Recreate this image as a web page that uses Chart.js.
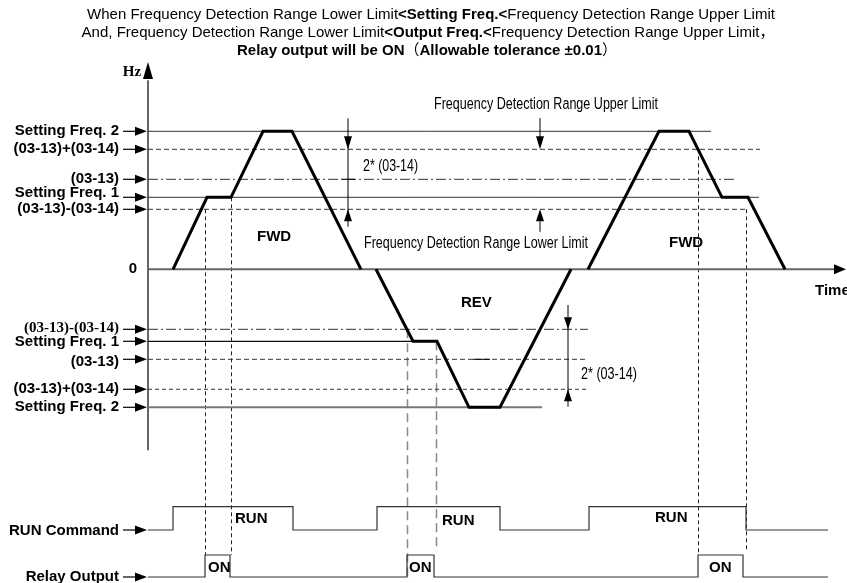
<!DOCTYPE html>
<html><head><meta charset="utf-8">
<script src="https://cdn.jsdelivr.net/npm/chart.js@4"></script>
<style>html,body{margin:0;padding:0;background:#fff;overflow:hidden}#wrap{width:847px;height:583px;position:relative}</style>
</head><body><div id="wrap"><canvas id="c" width="847" height="583"></canvas></div>
<script>
// ---- Frequency profile (time units, Hz) ----
const fwd1Time = [2.5, 5.9, 8.3, 11.5, 14.4, 21.3];
const fwd1Hz   = [0, 24, 24, 46, 46, 0];
const revTime  = [22.8, 26.5, 28.9, 32.1, 35.2, 42.3];
const revHz    = [0, -24, -24, -46, -46, 0];
const fwd2Time = [44.0, 51.1, 54.1, 57.4, 60.0, 63.7];
const fwd2Hz   = [0, 46, 46, 24, 24, 0];

// ---- Reference levels ----
const upperLevelLabels = ['Setting Freq. 2', '(03-13)+(03-14)', '(03-13)', 'Setting Freq. 1', '(03-13)-(03-14)'];
const upperLevelHz  = [46, 40, 30, 24, 20];
const upperLevelEnd = [56.3, 61.2, 58.8, 61.1, 59.9];
const lowerLevelLabels = ['(03-13)-(03-14)', 'Setting Freq. 1', '(03-13)', '(03-13)+(03-14)', 'Setting Freq. 2'];
const lowerLevelHz  = [-20, -24, -30, -40, -46];
const lowerLevelEnd = [44.0, 26.5, 44.0, 43.8, 39.4];

// ---- Detection markers (vertical dashed lines) ----
const markerTime = [5.7, 8.3, 25.9, 28.8, 55.0, 59.8];
const markerHz   = [20, 24, -20, -24, 40, 20];
const markerRelayEnd = [1, 1, 0, 1.3, 1, 1.2];

// ---- RUN command / relay output (0 = off, 1 = on) ----
const runTime    = [0, 2.5, 14.5, 22.9, 35.2, 44.1, 59.8, 68.0];
const runState   = [0, 1, 0, 1, 0, 1, 0, 0];
const relayTime  = [0, 5.7, 8.2, 25.9, 28.6, 55.0, 59.5, 68.0];
const relayState = [0, 1, 0, 1, 0, 1, 0, 0];

const SANS = "'Liberation Sans', Arial, Helvetica, 'Noto Sans CJK SC', sans-serif";
const SERIF = "'Liberation Serif', 'Times New Roman', serif";
const NARROW = "'Liberation Sans Narrow', 'Arial Narrow', 'Liberation Sans', sans-serif";

function pts(xs, ys) { return xs.map((v, i) => ({x: v, y: ys[i]})); }

const curveStyle = {borderColor: '#000', borderWidth: 3, pointRadius: 0, tension: 0, fill: false,
  borderJoinStyle: 'miter', borderCapStyle: 'butt', yAxisID: 'y'};
const datasets = [
  Object.assign({label: 'FWD', data: pts(fwd1Time, fwd1Hz)}, curveStyle),
  Object.assign({label: 'REV', data: pts(revTime, revHz)}, curveStyle),
  Object.assign({label: 'FWD', data: pts(fwd2Time, fwd2Hz)}, curveStyle),
  {label: 'RUN Command', data: pts(runTime, runState), stepped: 'before', borderColor: '#333', borderWidth: 1.2,
   pointRadius: 0, yAxisID: 'yRun'},
  {label: 'Relay Output', data: pts(relayTime, relayState), stepped: 'before', borderColor: '#333', borderWidth: 1.2,
   pointRadius: 0, yAxisID: 'yRelay'}
];
const upperStyles = [
  {dash: [], color: '#333', width: 1},
  {dash: [5, 3], color: '#333', width: 1},
  {dash: [10, 3, 2, 3], color: '#333', width: 1},
  {dash: [], color: '#333', width: 1},
  {dash: [5, 3], color: '#333', width: 1}];
const lowerStyles = [
  {dash: [10, 3, 2, 3], color: '#333', width: 1},
  {dash: [], color: '#111', width: 1.3},
  {dash: [5, 3], color: '#333', width: 1},
  {dash: [4, 3], color: '#333', width: 1},
  {dash: [], color: '#777', width: 2}];
function addLevels(hzs, ends, styles, labels) {
  hzs.forEach((hz, i) => datasets.push({label: labels[i], data: [{x: 0, y: hz}, {x: ends[i], y: hz}],
    borderColor: styles[i].color, borderWidth: styles[i].width, borderDash: styles[i].dash,
    pointRadius: 0, tension: 0, yAxisID: 'y'}));
}
addLevels(upperLevelHz, upperLevelEnd, upperStyles, upperLevelLabels);
addLevels(lowerLevelHz, lowerLevelEnd, lowerStyles, lowerLevelLabels);

function txt(ctx, s, x, y, font, align, target) {
  ctx.save();
  ctx.font = font; ctx.textBaseline = 'middle'; ctx.textAlign = 'left'; ctx.fillStyle = '#000';
  const w = ctx.measureText(s).width;
  const sx = target ? target / w : 1;
  const left = align === 'right' ? x - w * sx : (align === 'center' ? x - w * sx / 2 : x);
  ctx.translate(left, y); ctx.scale(sx, 1); ctx.fillText(s, 0, 0);
  ctx.restore();
}
function runsText(ctx, parts, cx, y) {
  ctx.save(); ctx.textBaseline = 'middle'; ctx.textAlign = 'left'; ctx.fillStyle = '#000';
  let total = 0;
  const ws = parts.map(p => { ctx.font = p[1]; const w = ctx.measureText(p[0]).width; total += w; return w; });
  let xx = cx - total / 2;
  parts.forEach((p, i) => { ctx.font = p[1]; ctx.fillText(p[0], xx, y); xx += ws[i]; });
  ctx.restore();
}
function head(ctx, tx, ty, dir, len, half) {
  ctx.beginPath(); ctx.moveTo(tx, ty);
  if (dir === 'right') { ctx.lineTo(tx - len, ty - half); ctx.lineTo(tx - len, ty + half); }
  if (dir === 'up') { ctx.lineTo(tx - half, ty + len); ctx.lineTo(tx + half, ty + len); }
  if (dir === 'down') { ctx.lineTo(tx - half, ty - len); ctx.lineTo(tx + half, ty - len); }
  ctx.closePath(); ctx.fill();
}
function seg(ctx, x1, y1, x2, y2) { ctx.beginPath(); ctx.moveTo(x1, y1); ctx.lineTo(x2, y2); ctx.stroke(); }

const diagram = {
  id: 'diagram',
  beforeDatasetsDraw(chart) {
    const {ctx} = chart; const {x, y, yRelay} = chart.scales;
    ctx.save();
    // vertical detection markers
    markerTime.forEach((t, i) => {
      const longDash = (i === 2 || i === 3);
      ctx.strokeStyle = longDash ? '#888' : '#222';
      ctx.lineWidth = longDash ? 1.5 : 1;
      ctx.setLineDash(longDash ? [9, 5] : [4, 3]);
      const px = Math.round(x.getPixelForValue(t)) + 0.5;
      seg(ctx, px, y.getPixelForValue(markerHz[i]), px, yRelay.getPixelForValue(markerRelayEnd[i]));
    });
    ctx.setLineDash([]);
    // axes
    const ax = x.getPixelForValue(0), ay = y.getPixelForValue(0);
    ctx.strokeStyle = '#666'; ctx.lineWidth = 2; ctx.fillStyle = '#000';
    seg(ctx, ax, y.getPixelForValue(63), ax, y.getPixelForValue(-60.3));
    head(ctx, ax, y.getPixelForValue(69.1), 'up', 17, 5);
    seg(ctx, ax, ay, x.getPixelForValue(68.8), ay);
    head(ctx, x.getPixelForValue(69.8), ay, 'right', 12, 5);
    ctx.restore();
  },
  afterDatasetsDraw(chart) {
    const {ctx} = chart; const {x, y, yRun, yRelay} = chart.scales;
    const ax = x.getPixelForValue(0);
    const B15 = 'bold 15px ' + SANS, R15 = '15px ' + SANS;
    ctx.save();
    ctx.fillStyle = '#000'; ctx.strokeStyle = '#000'; ctx.lineWidth = 1;
    // title
    runsText(ctx, [['When Frequency Detection Range Lower Limit', R15], ['<Setting Freq.<', B15],
      ['Frequency Detection Range Upper Limit', R15]], 431, 15);
    runsText(ctx, [['And, Frequency Detection Range Lower Limit', R15], ['<Output Freq.<', B15],
      ['Frequency Detection Range Upper Limit\uFF0C', R15]], 428, 32.5);
    runsText(ctx, [['Relay output will be ON', B15], ['\uFF08', R15], ['Allowable tolerance \u00B10.01', B15],
      ['\uFF09', R15]], 427, 50.5);
    txt(ctx, 'Hz', ax - 16, 72, 'bold 15px ' + SERIF, 'center');
    // left labels with arrows
    const upperDy = [0, 0, 0, -4, 0], lowerDy = [-1, 1, 2.7, 0, 0];
    const drawArrowLabel = (label, py, dy, font) => {
      txt(ctx, label, ax - 29, py + dy, font, 'right');
      ctx.lineWidth = 1.2; seg(ctx, ax - 25, py, ax - 10, py);
      head(ctx, ax - 1, py, 'right', 12, 4.5);
    };
    upperLevelLabels.forEach((l, i) => drawArrowLabel(l, y.getPixelForValue(upperLevelHz[i]), upperDy[i], B15));
    lowerLevelLabels.forEach((l, i) => drawArrowLabel(l, y.getPixelForValue(lowerLevelHz[i]), lowerDy[i],
      i === 0 ? 'bold 15px ' + SERIF : B15));
    txt(ctx, '0', ax - 15, y.getPixelForValue(0), B15, 'center');
    drawArrowLabel('RUN Command', yRun.getPixelForValue(0), 0.7, B15);
    drawArrowLabel('Relay Output', yRelay.getPixelForValue(0), 0, B15);
    // tolerance band annotations
    ctx.lineWidth = 1; ctx.strokeStyle = '#000';
    const bandX1 = x.getPixelForValue(20.0);
    seg(ctx, bandX1, y.getPixelForValue(50.3), bandX1, y.getPixelForValue(14.2));
    head(ctx, bandX1, y.getPixelForValue(40), 'down', 13, 4);
    head(ctx, bandX1, y.getPixelForValue(20), 'up', 12, 4);
    seg(ctx, x.getPixelForValue(19.4), y.getPixelForValue(30), x.getPixelForValue(20.7), y.getPixelForValue(30));
    const limX = x.getPixelForValue(39.2);
    seg(ctx, limX, y.getPixelForValue(50.4), limX, y.getPixelForValue(44));
    head(ctx, limX, y.getPixelForValue(40), 'down', 13, 4);
    seg(ctx, limX, y.getPixelForValue(16), limX, y.getPixelForValue(12.5));
    head(ctx, limX, y.getPixelForValue(20), 'up', 12, 4);
    const bandX2 = x.getPixelForValue(42.0);
    seg(ctx, bandX2, y.getPixelForValue(-11.9), bandX2, y.getPixelForValue(-45.8));
    head(ctx, bandX2, y.getPixelForValue(-20), 'down', 12, 4);
    head(ctx, bandX2, y.getPixelForValue(-40), 'up', 12, 4);
    seg(ctx, x.getPixelForValue(32.5), y.getPixelForValue(-30), x.getPixelForValue(34.2), y.getPixelForValue(-30));
    // narrow annotation texts
    const N16 = '16px ' + NARROW;
    txt(ctx, 'Frequency Detection Range Upper Limit', x.getPixelForValue(28.6), y.getPixelForValue(54.8), N16, 'left', 224);
    txt(ctx, 'Frequency Detection Range Lower Limit', x.getPixelForValue(21.6), y.getPixelForValue(8.7), N16, 'left', 224);
    txt(ctx, '2* (03-14)', x.getPixelForValue(21.5), y.getPixelForValue(34.4), N16, 'left', 55);
    txt(ctx, '2* (03-14)', x.getPixelForValue(43.3), y.getPixelForValue(-35.2), N16, 'left', 56);
    // region labels
    txt(ctx, 'FWD', x.getPixelForValue(10.9), y.getPixelForValue(10.9), B15, 'left');
    txt(ctx, 'FWD', x.getPixelForValue(52.1), y.getPixelForValue(8.7), B15, 'left');
    txt(ctx, 'REV', x.getPixelForValue(31.3), y.getPixelForValue(-11.3), B15, 'left');
    txt(ctx, 'Time', x.getPixelForValue(66.7), y.getPixelForValue(-7.1), B15, 'left');
    txt(ctx, 'RUN', x.getPixelForValue(8.7), yRun.getPixelForValue(0.47), B15, 'left');
    txt(ctx, 'RUN', x.getPixelForValue(29.4), yRun.getPixelForValue(0.39), B15, 'left');
    txt(ctx, 'RUN', x.getPixelForValue(50.7), yRun.getPixelForValue(0.5), B15, 'left');
    txt(ctx, 'ON', x.getPixelForValue(6.0), yRelay.getPixelForValue(0.4), B15, 'left');
    txt(ctx, 'ON', x.getPixelForValue(26.1), yRelay.getPixelForValue(0.4), B15, 'left');
    txt(ctx, 'ON', x.getPixelForValue(56.1), yRelay.getPixelForValue(0.4), B15, 'left');
    ctx.restore();
  }
};

new Chart(document.getElementById('c'), {
  type: 'line',
  data: {datasets},
  options: {
    responsive: false, animation: false, devicePixelRatio: 1,
    layout: {padding: 0},
    plugins: {legend: {display: false}, tooltip: {enabled: false}, title: {display: false}},
    events: [],
    scales: {
      x: {type: 'linear', min: -14.8, max: 69.9, display: false},
      y: {type: 'linear', min: -104.57, max: 89.77, display: false},
      yRun: {type: 'linear', min: -2.275, max: 22.747, display: false},
      yRelay: {type: 'linear', min: -0.273, max: 26.227, display: false}
    }
  },
  plugins: [diagram]
});
</script></body></html>
